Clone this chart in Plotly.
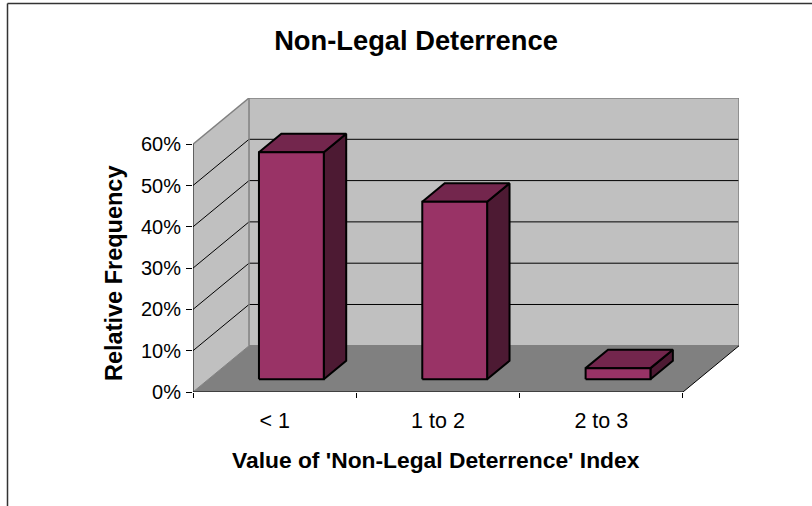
import plotly.graph_objects as go

# Data
categories = ["< 1", "1 to 2", "2 to 3"]
values = [55, 43, 2.7]
y_ticks = [0, 10, 20, 30, 40, 50, 60]
y_labels = ["0%", "10%", "20%", "30%", "40%", "50%", "60%"]

title = "Non-Legal Deterrence"
x_title = "Value of 'Non-Legal Deterrence' Index"
y_title = "Relative Frequency"

# Oblique projection used to fake Excel's 3-D box
DX, DY = 0.343, 11.19       # shift of the back wall, in axis units
BAR_W = 0.397
BAR_NEAR, BAR_DEPTH = 0.275, 0.40
BAR_SHIFT = 0.008
YMAX, N = y_ticks[-1], len(categories)


def proj(x, v, d):
    return x + DX * d, v + DY * d


def poly(pts, fill, line="rgba(0,0,0,0)", width=0):
    xs, ys = zip(*pts)
    return go.Scatter(x=list(xs) + [xs[0]], y=list(ys) + [ys[0]], mode="lines",
                      fill="toself", fillcolor=fill,
                      line=dict(color=line, width=width), hoverinfo="skip",
                      showlegend=False, cliponaxis=False)


def seg(a, b, color, width):
    return go.Scatter(x=[a[0], b[0]], y=[a[1], b[1]], mode="lines",
                      line=dict(color=color, width=width), hoverinfo="skip",
                      showlegend=False, cliponaxis=False)


fig = go.Figure()
# walls and floor
fig.add_trace(poly([proj(0, 0, 0), proj(0, YMAX, 0), proj(0, YMAX, 1), proj(0, 0, 1)], "#C0C0C0"))
fig.add_trace(poly([proj(0, 0, 1), proj(0, YMAX, 1), proj(N, YMAX, 1), proj(N, 0, 1)], "#C0C0C0"))
fig.add_trace(poly([proj(0, 0, 0), proj(N, 0, 0), proj(N, 0, 1), proj(0, 0, 1)], "#808080"))
# gridlines
for t in y_ticks[1:-1]:
    fig.add_trace(seg(proj(0, t, 0), proj(0, t, 1), "#000000", 1))
    fig.add_trace(seg(proj(0, t, 1), proj(N, t, 1), "#000000", 1))
# wall edges
GE = "#808080"
fig.add_trace(seg(proj(0, YMAX, 0), proj(0, YMAX, 1), GE, 1.5))
fig.add_trace(seg(proj(0, YMAX, 1), proj(N, YMAX, 1), GE, 1.5))
fig.add_trace(seg(proj(0, 0, 1), proj(0, YMAX, 1), GE, 1.5))
fig.add_trace(seg(proj(N, 0, 1), proj(N, YMAX, 1), GE, 1.5))
fig.add_trace(seg(proj(0, 0, 1), proj(N, 0, 1), GE, 1.5))
fig.add_trace(seg(proj(0, 0, 0), proj(0, 0, 1), GE, 1))
fig.add_trace(seg(proj(N, 0, 0), proj(N, 0, 1), "#000000", 1))
# bars
d0, d1 = BAR_NEAR, BAR_NEAR + BAR_DEPTH
for i, v in enumerate(values):
    a = i + 0.5 - BAR_W / 2 + BAR_SHIFT
    b = a + BAR_W
    fig.add_trace(poly([proj(b, 0, d0), proj(b, v, d0), proj(b, v, d1), proj(b, 0, d1)],
                       "#4D1A33", "#000000", 2))
    fig.add_trace(poly([proj(a, v, d0), proj(b, v, d0), proj(b, v, d1), proj(a, v, d1)],
                       "#73264D", "#000000", 2))
    fig.add_trace(poly([proj(a, 0, d0), proj(b, 0, d0), proj(b, v, d0), proj(a, v, d0)],
                       "#993366", "#000000", 2))
# axis lines
fig.add_trace(seg((0, 0), (0, YMAX), "#000000", 1))
fig.add_trace(seg((0, 0), (N, 0), "#000000", 1))

FONT = "Liberation Sans, Arial, sans-serif"
L, R, T, B = 193, 73, 98, 114
PW, PH = 812 - L - R, 506 - T - B


def px(x):
    return (x - L) / PW


def py(y):
    return (506 - B - y) / PH


frame = dict(type="line", xref="paper", yref="paper",
             line=dict(color="#333333", width=1.5))
fig.update_layout(
    width=812, height=506,
    margin=dict(l=L, r=R, t=T, b=B, autoexpand=False),
    paper_bgcolor="#FFFFFF", plot_bgcolor="rgba(0,0,0,0)",
    showlegend=False,
    font=dict(family=FONT, color="#000000", size=21.5),
    title=dict(text="<b>%s</b>" % title, x=416 / 812, xanchor="center",
               y=1 - 40 / 506, yanchor="middle", font=dict(size=27.3)),
    xaxis=dict(range=[0, N + DX], tickmode="array",
               tickvals=[i + 0.5 for i in range(N)], ticktext=categories,
               ticks="", ticklen=0, showgrid=False, zeroline=False, showline=False,
               ticklabelstandoff=13,
               minor=dict(tick0=0, dtick=1, ticks="outside", ticklen=5,
                          tickcolor="#000000", showgrid=False)),
    yaxis=dict(range=[0, YMAX + DY], tickmode="array", tickvals=y_ticks,
               ticktext=y_labels, ticks="outside", ticklen=6, tickcolor="#000000",
               ticklabelstandoff=1, showgrid=False, zeroline=False, showline=False,
               tickfont=dict(size=20)),
    annotations=[
        dict(text="<b>%s</b>" % x_title, xref="paper", yref="paper", x=px(436), y=py(460),
             xanchor="center", yanchor="middle", showarrow=False, font=dict(size=22.8)),
        dict(text="<b>%s</b>" % y_title, xref="paper", yref="paper", x=px(114), y=py(273),
             xanchor="center", yanchor="middle", showarrow=False, textangle=-90,
             font=dict(size=23.5)),
    ],
    shapes=[
        dict(frame, x0=px(7.5), x1=px(7.5), y0=py(3.5), y1=py(506)),
        dict(frame, x0=px(7.5), x1=px(812), y0=py(3.5), y1=py(3.5)),
    ],
)
fig.write_html("out.html", post_script="document.body.style.margin='0';",
               config=dict(displayModeBar=False))
